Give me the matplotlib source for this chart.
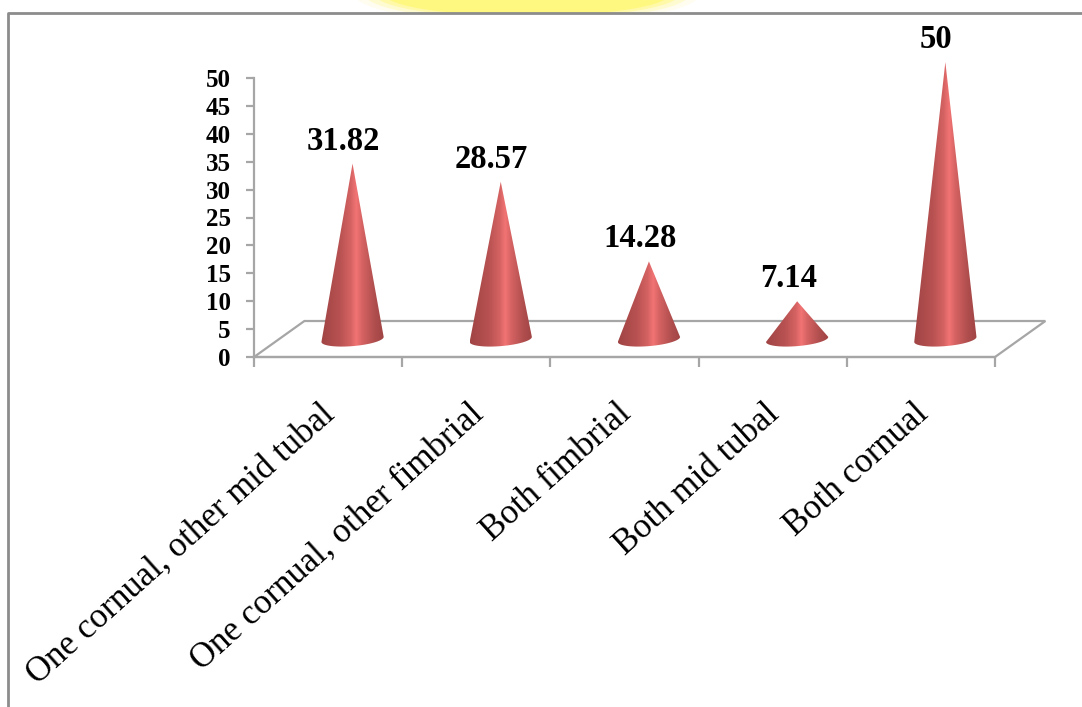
import matplotlib
matplotlib.use("Agg")
import matplotlib.pyplot as plt
from matplotlib.colors import LinearSegmentedColormap
from matplotlib.patches import Ellipse
from matplotlib.path import Path
import numpy as np

categories = ["One cornual, other mid tubal", "One cornual, other fimbrial",
              "Both fimbrial", "Both mid tubal", "Both cornual"]
values = [31.82, 28.57, 14.28, 7.14, 50]
value_labels = ["31.82", "28.57", "14.28", "7.14", "50"]
yticks = [0, 5, 10, 15, 20, 25, 30, 35, 40, 45, 50]

W, H = 1082, 707
GRAY = "#a6a6a6"

plt.rcParams["font.family"] = ["Liberation Serif", "DejaVu Serif"]

fig = plt.figure(figsize=(W / 100, H / 100), dpi=100)

# yellow glow above the frame
bg = fig.add_axes([0, 0, 1, 1])
bg.set_xlim(0, W)
bg.set_ylim(H, 0)
bg.axis("off")
for w, h, c in [(345, 60, "#fffdf0"), (325, 54, "#fffbd0"), (305, 48, "#fff9a8"), (285, 44, "#fff880")]:
    bg.add_patch(Ellipse((527, -6), w, h, color=c, lw=0))
bg.fill_between([0, W], 13, H, color="white", lw=0)
bg.plot([W, 8, 8], [13, 13, H], color="#8c8c8c", lw=2)

# plot area, depth of the floor is given in data units
ax = fig.add_axes([254 / W, 1 - 357 / H, (995 - 254) / W, (357 - 78) / H])
ax.patch.set_alpha(0)
n = len(categories)
back_x, back_y = 0.34, 6.45

ax.plot([0, back_x, n + back_x, n, 0], [0, back_y, back_y, 0, 0],
        color=GRAY, lw=1.6, clip_on=False, solid_joinstyle="miter")

cmap = LinearSegmentedColormap.from_list(
    "cone", [(0, "#a04444"), (0.3, "#b85252"), (0.47, "#d56262"), (0.56, "#f27474"),
             (0.66, "#d56262"), (0.85, "#b04e4e"), (1, "#a04444")])
shade = np.linspace(0, 1, 256).reshape(1, -1)

half_w = 0.21
base_y = 3.15
tilt_y = 0.45   # right side of the base sits higher than the left
semi_y = 1.2

for i, v in enumerate(values):
    cx = i + 0.5 + 0.165
    apex_y = 2.85 + v
    # lower rim of the base, drawn from the left edge to the right edge
    t = np.linspace(np.pi, 2 * np.pi, 40)
    rim_x = cx + half_w * np.cos(t)
    rim_y = base_y + semi_y * np.sin(t) + tilt_y * np.cos(t)
    verts = list(zip(rim_x, rim_y)) + [(cx, apex_y), (rim_x[0], rim_y[0])]
    codes = [Path.MOVETO] + [Path.LINETO] * (len(verts) - 2) + [Path.CLOSEPOLY]
    im = ax.imshow(shade, cmap=cmap, aspect="auto", zorder=3,
                   extent=[cx - half_w, cx + half_w, 0, apex_y + 1])
    # the tallest cone rises above the 50 tick, so clip to the figure
    im.set_clip_box(fig.bbox)
    im.set_clip_path(Path(verts, codes), transform=ax.transData)
    ax.annotate(value_labels[i], (cx, apex_y), xytext=(-6.5, 5), textcoords="offset points",
                ha="center", va="bottom", fontsize=23.5, fontweight="bold", zorder=4, annotation_clip=False)

ax.set_xlim(0, n)
ax.set_ylim(0, 50)
for side in ["top", "right"]:
    ax.spines[side].set_visible(False)
for side in ["left", "bottom"]:
    ax.spines[side].set_color(GRAY)
    ax.spines[side].set_linewidth(1.6)

ax.set_yticks(yticks)
ax.set_yticklabels([str(t) for t in yticks], fontsize=18, fontweight="bold")
ax.tick_params(axis="y", length=5.8, width=1.6, color=GRAY, pad=11)

ax.set_xticks(range(n + 1))
ax.set_xticklabels([])
ax.tick_params(axis="x", length=7, width=1.6, color=GRAY)

# slanted category labels, each one ends just under its slot
for i, c in enumerate(categories):
    ax.annotate(c, (i + 0.5, 0), xytext=(-6, -29), textcoords="offset points",
                rotation=42, rotation_mode="anchor", ha="right", va="top",
                fontsize=25, annotation_clip=False)

fig.savefig("out.png", dpi=100)
